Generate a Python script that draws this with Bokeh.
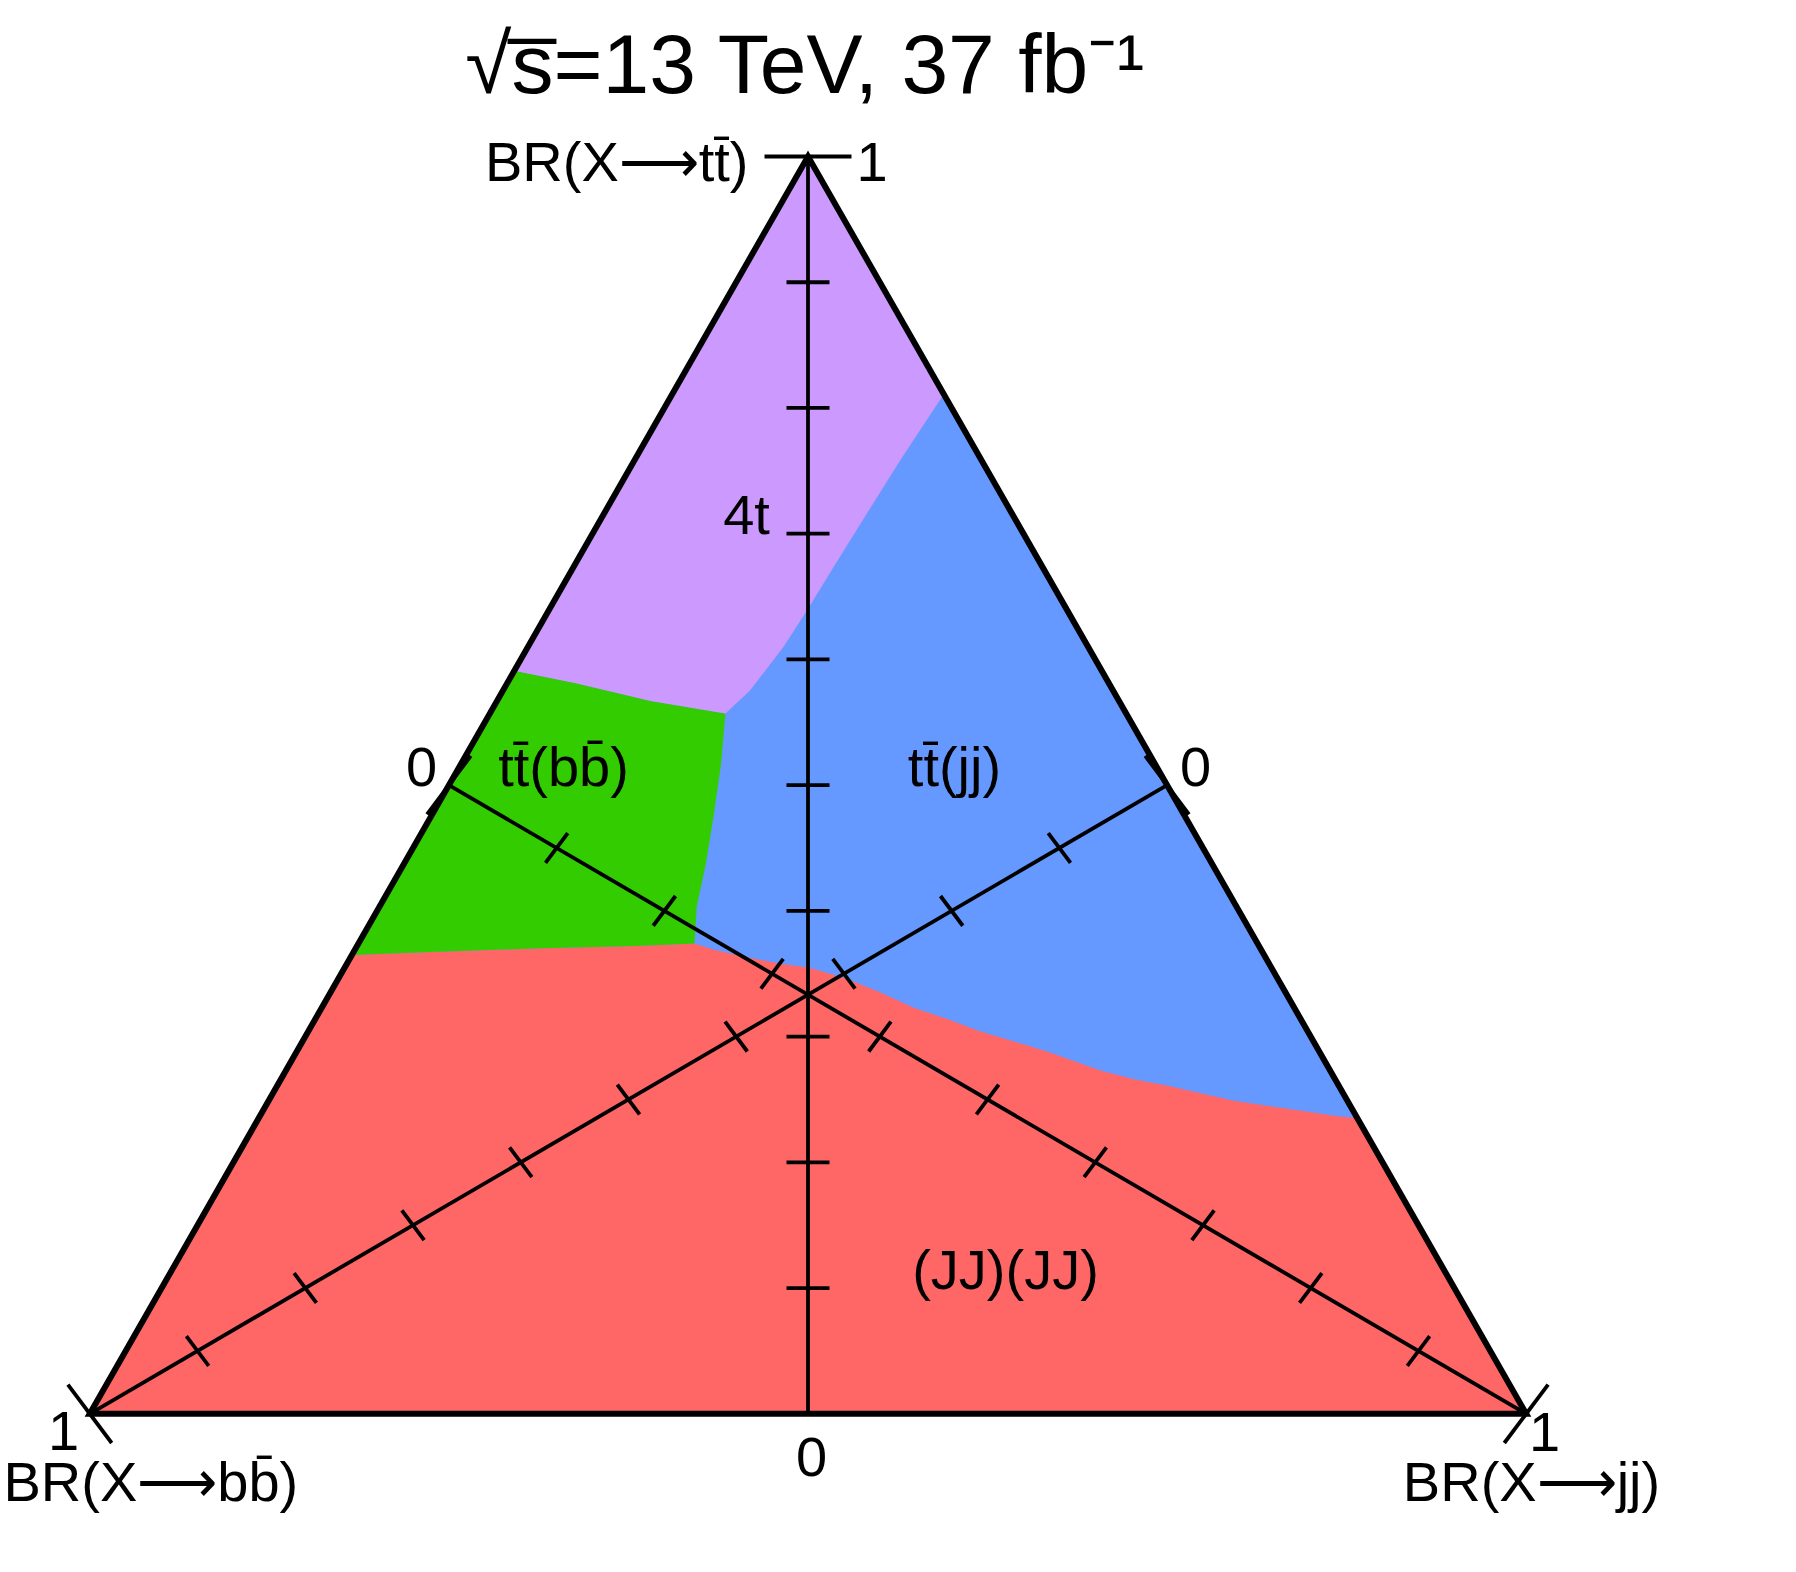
from bokeh.plotting import figure
from bokeh.models import Range1d
from bokeh.core.properties import value
from bokeh.embed import file_html
from bokeh.resources import INLINE

# ---------------- data (branching ratios, barycentric: BR(tt), BR(jj); BR(bb)=1-tt-jj) -------------
# boundary 4t | tt(jj): from right edge down to triple point
PB_TT = [0.811, 0.758, 0.716, 0.673, 0.642, 0.610, 0.575, 0.557]
PB_JJ = [0.189, 0.185, 0.183, 0.181, 0.180, 0.178, 0.172, 0.164]
# boundary 4t | tt(bb): from left edge to triple point
PG_TT = [0.591, 0.581, 0.567, 0.557]
PG_JJ = [0.000, 0.048, 0.107, 0.164]
# boundary tt(bb) | tt(jj): upper triple point to lower triple point
GB_TT = [0.557, 0.517, 0.477, 0.438, 0.403, 0.374]
GB_JJ = [0.164, 0.181, 0.196, 0.210, 0.221, 0.234]
# boundary tt(bb) | (JJ)(JJ): from left edge to lower triple point
GR_TT = [0.365, 0.367, 0.370, 0.372, 0.374]
GR_JJ = [0.000, 0.049, 0.123, 0.194, 0.234]
# boundary (JJ)(JJ) | tt(jj): lower triple point to right edge
RB_TT = [0.374, 0.369, 0.363, 0.358, 0.355, 0.346, 0.335, 0.323, 0.314, 0.304, 0.296,
         0.288, 0.273, 0.266, 0.261, 0.255, 0.249, 0.245, 0.241, 0.237, 0.235]
RB_JJ = [0.234, 0.250, 0.276, 0.302, 0.323, 0.354, 0.383, 0.412, 0.440, 0.468, 0.496,
         0.523, 0.567, 0.594, 0.620, 0.646, 0.672, 0.697, 0.723, 0.748, 0.765]

TICK_VALUES = [0.1, 0.2, 0.3, 0.4, 0.5, 0.6, 0.7, 0.8, 0.9]
AXIS_END_VALUES = [0.0, 1.0]

REGION_LABELS = ["4t", "tt\u0304(bb\u0304)", "tt\u0304(jj)", "(JJ)(JJ)"]
TITLE = "\u221As\u0305=13 TeV, 37 fb\u207B\u00B9"
ARROW = "\u27F6"

COL_RED = "#FF6666"
COL_BLUE = "#6699FF"
COL_GREEN = "#33CC00"
COL_PURPLE = "#CC99FF"

# ---------------- layout -------------
W, H = 1780, 1556
SX, SY = 1436.4, 1257.3          # px per unit
X0, Y0 = 89.3, 1413.3            # page px of the (0,0) corner
ORG = 0                          # page px of the figure's top-left corner
FONT = value("Liberation Sans")
BASE_SHIFT = 0.375               # baseline correction, in em


def tx(tt, jj):
    return [j + t / 2.0 for t, j in zip(tt, jj)]


def ty(tt, jj):
    return list(tt)


def P(px, py):
    return (px - X0) / SX, (Y0 - py) / SY


xr = Range1d((ORG - X0) / SX, (ORG + W - X0) / SX)
yr = Range1d((Y0 - ORG - H) / SY, (Y0 - ORG) / SY)

p = figure(width=W, height=H, x_range=xr, y_range=yr, output_backend="svg",
           toolbar_location=None, min_border=0, x_axis_location=None,
           y_axis_location=None, outline_line_color=None)
p.background_fill_color = "white"
p.border_fill_color = "white"
p.xgrid.visible = False
p.ygrid.visible = False

# whole triangle (red base)
TRI_TT = [0.0, 0.0, 1.0]
TRI_JJ = [0.0, 1.0, 0.0]
p.patch(tx(TRI_TT, TRI_JJ), ty(TRI_TT, TRI_JJ), fill_color=COL_RED, line_color=None)

# upper region (blue) : above red boundary
up_tt = GR_TT + RB_TT[1:] + [1.0]
up_jj = GR_JJ + RB_JJ[1:] + [0.0]
p.patch(tx(up_tt, up_jj), ty(up_tt, up_jj), fill_color=COL_BLUE, line_color=None)

# green region
g_tt = PG_TT + GB_TT[1:] + GR_TT[::-1][1:]
g_jj = PG_JJ + GB_JJ[1:] + GR_JJ[::-1][1:]
p.patch(tx(g_tt, g_jj), ty(g_tt, g_jj), fill_color=COL_GREEN, line_color=None)

# purple region
pu_tt = [1.0] + PB_TT + PG_TT[::-1][1:]
pu_jj = [0.0] + PB_JJ + PG_JJ[::-1][1:]
p.patch(tx(pu_tt, pu_jj), ty(pu_tt, pu_jj), fill_color=COL_PURPLE, line_color=None)

# ---------------- axes (medians) -------------
def axis_point(kind, v):
    if kind == "tt":
        return v, (1 - v) * 0.5
    if kind == "bb":
        return (1 - v) * 0.5, (1 - v) * 0.5
    return (1 - v) * 0.5, v


TICK_DIR = {"tt": (1.0, 0.0), "bb": (0.6, 0.8), "jj": (0.6, -0.8)}
TICK_HALF = {"tt": 21.5, "bb": 18.6, "jj": 18.6}
END_HALF = {"tt": 43.5, "bb": 36.5, "jj": 36.5}

mx, my = [], []
x0s, y0s, x1s, y1s = [], [], [], []
for kind in ["tt", "bb", "jj"]:
    a = axis_point(kind, 1.0)
    b = axis_point(kind, 0.0)
    mx.append(tx([a[0], b[0]], [a[1], b[1]]))
    my.append(ty([a[0], b[0]], [a[1], b[1]]))
    dxp, dyp = TICK_DIR[kind]
    for vals, half in ((TICK_VALUES, TICK_HALF[kind]), (AXIS_END_VALUES, END_HALF[kind])):
        for v in vals:
            t, j = axis_point(kind, v)
            cx, cy = j + t / 2.0, t
            ddx = dxp * half / SX
            ddy = -dyp * half / SY
            x0s.append(cx - ddx); y0s.append(cy - ddy)
            x1s.append(cx + ddx); y1s.append(cy + ddy)

p.multi_line(mx, my, line_color="black", line_width=3.8)
p.segment(x0s, y0s, x1s, y1s, line_color="black", line_width=3.8)

# triangle outline
p.patch(tx(TRI_TT, TRI_JJ), ty(TRI_TT, TRI_JJ), fill_color=None, line_color="black",
        line_width=6, line_join="miter")

# ---------------- texts -------------
def put(texts, pxs, pys, size, align):
    shift = BASE_SHIFT * float(size.replace("px", ""))
    xs, ys = [], []
    for a, b in zip(pxs, pys):
        X, Y = P(a, b - shift)
        xs.append(X); ys.append(Y)
    p.text(xs, ys, text=texts, text_font=FONT, text_font_size=value(size),
           text_align=align, text_baseline="alphabetic", text_color="black")


put([TITLE], [805], [95], "84px", "center")
put(["BR(X" + ARROW + "tt\u0304)"], [748], [182], "56px", "right")
put(["1"], [856], [182], "56px", "left")
put(REGION_LABELS, [746, 563, 954, 1005], [535, 787, 787, 1290], "56px", "center")
put(["0", "0", "0", "1", "1"], [421, 1195, 811, 63, 1544],
    [787, 787, 1477, 1451, 1452], "56px", "center")
put(["BR(X" + ARROW + "bb\u0304)"], [3], [1502], "56px", "left")
put(["BR(X" + ARROW + "jj)"], [1531], [1502], "56px", "center")

open("out.html", "w").write(file_html(p, INLINE))
